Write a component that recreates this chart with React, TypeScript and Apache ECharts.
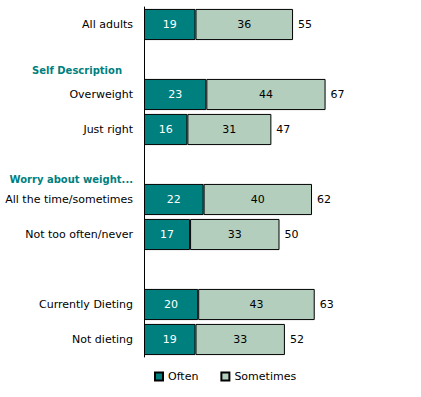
import React, { useEffect, useRef } from "react";
import * as echarts from "echarts";

const categories = [
  "All adults",
  "",
  "Overweight",
  "Just right",
  "",
  "All the time/sometimes",
  "Not too often/never",
  "",
  "Currently Dieting",
  "Not dieting",
];
const headers: Record<number, string> = {
  1: "Self Description",
  4: "Worry about weight...",
};
const often = [19, null, 23, 16, null, 22, 17, null, 20, 19];
const sometimes = [36, null, 44, 31, null, 40, 33, null, 43, 33];
const totals = [55, null, 67, 47, null, 62, 50, null, 63, 52];

const TEAL = "#007F7F";
const LIGHT = "#B3CEBD";
const FONT = "DejaVu Sans";

export default function App() {
  const ref = useRef<HTMLDivElement>(null);
  useEffect(() => {
    if (!ref.current) return;
    const chart = echarts.init(ref.current, null, { renderer: "svg" });
    const labels = categories.map((c, i) => (headers[i] ? headers[i] : c));
    chart.setOption({
      animation: false,
      textStyle: { fontFamily: FONT },
      grid: { left: 144, right: 6, top: 7, bottom: 40, containLabel: false },
      xAxis: {
        type: "value",
        min: 0,
        max: 100,
        show: false,
      },
      yAxis: {
        type: "category",
        data: labels,
        inverse: true,
        axisLine: { show: true, lineStyle: { color: "#000", width: 1 } },
        axisTick: { show: false },
        axisLabel: {
          margin: 11,
          fontFamily: FONT,
          fontSize: 11,
          color: "#000",
          formatter: (v: string, i: number) => {
            if (i === 1) return "{h1|" + v + "}";
            if (i === 4) return "{h2|" + v + "}";
            return v;
          },
          rich: {
            h1: {
              fontFamily: FONT,
              fontSize: 10,
              fontWeight: "bold",
              color: TEAL,
              padding: [22, 11, 0, 0],
            },
            h2: {
              fontFamily: FONT,
              fontSize: 10,
              fontWeight: "bold",
              color: TEAL,
              padding: [30, 0, 0, 0],
            },
          },
        },
      },
      legend: {
        left: 149,
        top: 366,
        itemWidth: 8,
        itemHeight: 8,
        itemGap: 22,
        icon: "rect",
        textStyle: { fontFamily: FONT, fontSize: 11, color: "#000" },
        data: ["Often", "Sometimes"],
      },
      series: [
        {
          name: "Often",
          type: "bar",
          stack: "t",
          barCategoryGap: "11%",
          data: often,
          itemStyle: { color: TEAL, borderColor: "#000", borderWidth: 1 },
          label: {
            show: true,
            position: "inside",
            color: "#fff",
            fontFamily: FONT,
            fontSize: 11,
          },
        },
        {
          name: "Sometimes",
          type: "bar",
          stack: "t",
          data: sometimes,
          itemStyle: { color: LIGHT, borderColor: "#000", borderWidth: 1 },
          label: {
            show: true,
            position: "inside",
            color: "#000",
            fontFamily: FONT,
            fontSize: 11,
          },
        },
        {
          name: "Total",
          type: "bar",
          stack: "t",
          data: totals.map((t) => (t == null ? null : 0)),
          itemStyle: { color: "transparent", borderWidth: 0 },
          label: {
            show: true,
            position: "right",
            distance: 5,
            color: "#000",
            fontFamily: FONT,
            fontSize: 11,
            formatter: (p: any) => String(totals[p.dataIndex]),
          },
        },
      ],
    });
    return () => chart.dispose();
  }, []);
  return <div ref={ref} style={{ width: 421, height: 397, position: "absolute", left: 0, top: 0 }} />;
}
